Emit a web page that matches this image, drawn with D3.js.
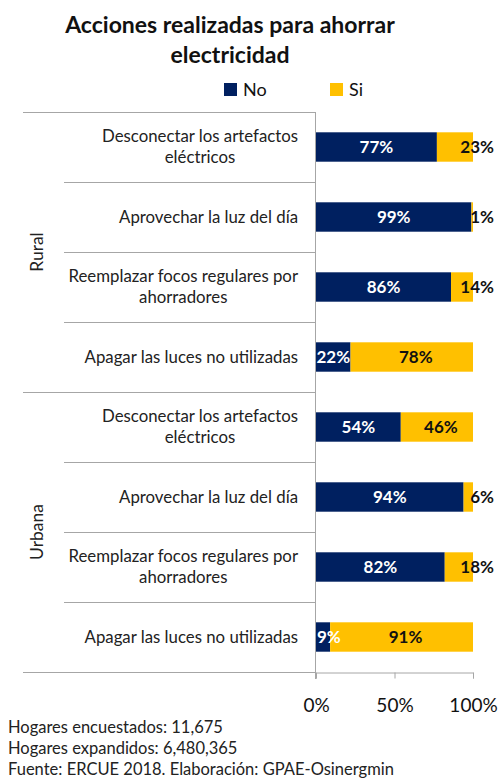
<!DOCTYPE html>
<html>
<head>
<meta charset="utf-8">
<script src="https://cdn.jsdelivr.net/npm/d3@7"></script>
<style>
  body{margin:0;background:#fff;}
  svg{display:block;font-family:Lato,"Open Sans",sans-serif;}
</style>
</head>
<body>
<svg id="chart"></svg>
<script>
// data
var zonas=["Rural","Urbana"];
var acciones=["Desconectar los artefactos eléctricos","Aprovechar la luz del día","Reemplazar focos regulares por ahorradores","Apagar las luces no utilizadas"];
var noRural=[77,99,86,22];
var siRural=[23,1,14,78];
var noUrbana=[54,94,82,9];
var siUrbana=[46,6,18,91];
var series=["No","Si"];
var colores=["#002060","#FFC000"];
var ticksX=[0,50,100];
var notas=["Hogares encuestados: 11,675","Hogares expandidos: 6,480,365","Fuente: ERCUE 2018. Elaboración: GPAE-Osinergmin"];

var W=500,H=780;
var svg=d3.select('#chart').attr('width',W).attr('height',H);

// build rows
var rows=[];
var noVals=[noRural,noUrbana], siVals=[siRural,siUrbana];
zonas.forEach(function(z,zi){
  acciones.forEach(function(a,ai){
    rows.push({key:z+'|'+a,zona:z,accion:a,first:ai==0,no:noVals[zi][ai],si:siVals[zi][ai]});
  });
});

var yTop=112,yBot=672,axisX=316,left=23,innerLeft=64;
var y=d3.scaleBand().domain(rows.map(function(d){return d.key})).range([yTop,yBot]).paddingInner(0.58).paddingOuter(0.29);
var step=y.step();
var x=d3.scaleLinear().domain([0,100]).range([axisX,473]);

var grey='#a6a6a6';

// title
svg.append('text').attr('x',230).attr('y',33).attr('text-anchor','middle')
  .style('font-size','23px').style('font-weight','bold').attr('fill','#111')
  .text('Acciones realizadas para ahorrar');
svg.append('text').attr('x',230).attr('y',63).attr('text-anchor','middle')
  .style('font-size','23px').style('font-weight','bold').attr('fill','#111')
  .text('electricidad');

// legend
var leg=svg.append('g');
var legX=[224,330];
series.forEach(function(s,i){
  leg.append('rect').attr('x',legX[i]).attr('y',83).attr('width',13).attr('height',13).attr('fill',colores[i]);
  leg.append('text').attr('x',legX[i]+19).attr('y',96).style('font-size','18px').attr('fill','#111').text(s);
});

// grid / frame lines
var g=svg.append('g');
g.append('line').attr('x1',left).attr('x2',axisX).attr('y1',yTop+0.5).attr('y2',yTop+0.5).attr('stroke',grey);
rows.forEach(function(d,i){
  if(i==0) return;
  var yl=Math.round(yTop+i*step)+0.5;
  g.append('line').attr('x1',d.first?left:innerLeft).attr('x2',axisX).attr('y1',yl).attr('y2',yl).attr('stroke',grey);
});
g.append('line').attr('x1',left).attr('x2',axisX).attr('y1',yBot+0.5).attr('y2',yBot+0.5).attr('stroke',grey);
g.append('line').attr('x1',axisX-0.5).attr('x2',axisX-0.5).attr('y1',yTop).attr('y2',yBot+7).attr('stroke',grey);

// x axis
var ax=svg.append('g').attr('transform','translate(0,'+(yBot+0.5)+')')
  .call(d3.axisBottom(x).tickValues(ticksX).tickSize(6).tickPadding(20)
    .tickFormat(function(t){return t+'%'}));
ax.select('.domain').attr('stroke',grey);
ax.selectAll('.tick line').attr('stroke',grey);
ax.selectAll('.tick text').style('font-size','19px').attr('fill','#111').style('font-family','Lato,"Open Sans",sans-serif');

// bars
var bars=svg.append('g');
rows.forEach(function(d){
  var by=y(d.key), bh=y.bandwidth();
  bars.append('rect').attr('x',x(0)).attr('y',by).attr('width',x(d.no)-x(0)).attr('height',bh).attr('fill',colores[0]);
  bars.append('rect').attr('x',x(d.no)).attr('y',by).attr('width',x(d.no+d.si)-x(d.no)).attr('height',bh).attr('fill',colores[1]);
  // labels
  var t1=bars.append('text').attr('y',by+bh/2).attr('dy','0.36em').style('font-size','17px').style('font-weight','bold')
    .attr('fill','#fff').text(d.no+'%');
  var w1=t1.node().getComputedTextLength();
  if(w1>x(d.no)-x(0)) t1.attr('x',x(0)+1);
  else t1.attr('x',(x(0)+x(d.no))/2).attr('text-anchor','middle');
  var t2=bars.append('text').attr('y',by+bh/2).attr('dy','0.36em').style('font-size','17px').style('font-weight','bold')
    .attr('fill','#111').text(d.si+'%');
  var segW=x(d.no+d.si)-x(d.no);
  if(segW<60) t2.attr('x',x(100)+21).attr('text-anchor','end');
  else t2.attr('x',(x(d.no)+x(d.no+d.si))/2+4).attr('text-anchor','middle');
});

// category labels (wrapped)
var labs=svg.append('g');
var fsCat='16.8px';
rows.forEach(function(d){
  var cy=y(d.key)+y.bandwidth()/2;
  var words=d.accion.split(' '), lines=[], cur='';
  var probe=labs.append('text').style('font-size',fsCat);
  words.forEach(function(w){
    var test=cur?cur+' '+w:w;
    probe.text(test);
    if(probe.node().getComputedTextLength()>238 && cur){lines.push(cur);cur=w;}
    else cur=test;
  });
  lines.push(cur);
  probe.remove();
  var lh=21;
  var t=labs.append('text').attr('text-anchor','middle').style('font-size',fsCat).attr('fill','#222');
  lines.forEach(function(l,i){
    t.append('tspan').attr('x',0).attr('y',cy+(i-(lines.length-1)/2)*lh).attr('dy','0.35em').text(l);
  });
  // right-align block, each line centred within the block
  var bw=t.node().getBBox().width;
  t.attr('transform','translate('+(298-bw/2)+',0)');
});

// group labels
zonas.forEach(function(z,zi){
  var cy=yTop+(zi*4+2)*step;
  svg.append('text').attr('transform','translate(37,'+cy+') rotate(-90)').attr('text-anchor','middle')
    .attr('dy','0.35em').style('font-size','17.5px').attr('fill','#222').text(z);
});

// notes
notas.forEach(function(n,i){
  svg.append('text').attr('x',8).attr('y',733+i*21).style('font-size','16.5px').attr('fill','#222').text(n);
});
</script>
</body>
</html>
